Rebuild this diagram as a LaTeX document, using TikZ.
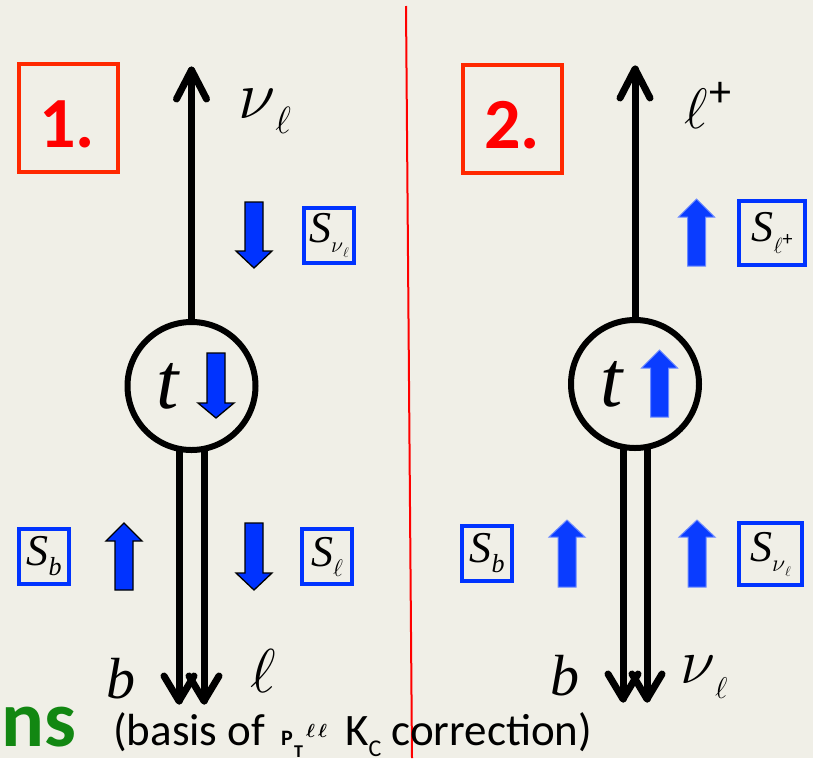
\RequirePackage{fix-cm}
\documentclass[tikz,border=0pt]{standalone}
\usepackage{fontspec}
\setmainfont{Carlito}
\newfontfamily\tms{Liberation Serif}
\usetikzlibrary{arrows.meta,backgrounds}
\definecolor{bg}{RGB}{240,239,231}
\definecolor{boxred}{RGB}{255,40,0}
\definecolor{numred}{RGB}{255,0,0}
\definecolor{spinblue}{RGB}{0,51,255}
\definecolor{spinblueB}{RGB}{10,60,255}
\definecolor{dgreen}{RGB}{18,135,18}
\newcommand\fs[1]{\fontsize{#1}{#1}\selectfont}
\newcommand\spinarrow[5][]{\draw[#1] ({#2-9},#3) -- ({#2+9},#3) -- ({#2+9},#4) -- ({#2+18},#4) -- (#2,#5) -- ({#2-18},#4) -- ({#2-9},#4) -- cycle;}
\newcommand\chevron[2]{\draw[chev] ([shift={(-15,#2)}]#1) -- (#1) -- ([shift={(15,#2)}]#1);}
\newcommand\Sit{{\tms\itshape\fs{44}S}}
\begin{document}
\begin{tikzpicture}[x=1pt,y=-1pt,
  numbox/.style={draw=boxred, line width=4pt, minimum width=99pt, minimum height=108pt, inner sep=0pt},
  numtext/.style={inner sep=0pt, text=numred, font=\fs{72}\bfseries},
  spinbox/.style={draw=spinblue, line width=4pt, inner sep=0pt, minimum width=50pt, minimum height=55pt},
  lbl/.style={inner sep=0pt, text=black},
  leg/.style={line width=7pt, line cap=round},
  chev/.style={line width=7pt, line cap=round, line join=round},
  topq/.style={draw, circle, line width=6pt, minimum size=128pt, fill=bg, inner sep=0pt},
  spinA/.style={fill=spinblue, draw=black, line width=1.3pt, line join=miter},
  spinB/.style={fill=spinblueB, draw=spinblueB!60!white, line width=1pt}
]
\useasboundingbox (0,0) rectangle (813,758);
\begin{scope}[on background layer]
\fill[bg] (0,0) rectangle (813,758);
\end{scope}
% divider
\coordinate (divtop) at (406,6);
\coordinate (divbot) at (412,758);
\draw[red, line width=2pt] (divtop) -- (divbot);

% ===== panel 1 =====
\node[numbox] (box1) at (68.5,118) {};
\node[numtext] (num1) at (67,124) {1.};
\node[topq] (t1) at (191.5,386) {};
\node[lbl, font=\tms\itshape\fs{80}] (t1t) at (168,386) {t};
\coordinate (nu1tip) at (191.5,70);
\coordinate (b1tip) at (179,701);
\coordinate (l1tip) at (204,701);
\draw[leg] (t1.north) -- (nu1tip);
\chevron{nu1tip}{29}
\begin{scope}[on background layer]
\draw[leg] (t1.center -| b1tip) -- (b1tip);
\draw[leg] (t1.center -| l1tip) -- (l1tip);
\end{scope}
\chevron{b1tip}{-25}
\chevron{l1tip}{-25}
\node[lbl, anchor=base west] (nu1) at (238,118) {{\fs{68}$\nu$}\raisebox{-15pt}{\fs{38}$\ell$}};
\node[lbl, anchor=base west] (b1) at (106,698) {\tms\itshape\fs{58}b};
\node[lbl, anchor=base west] (l1) at (250,692) {\fs{62}$\ell$};
\spinarrow[spinA]{254}{202}{251}{268}
\spinarrow[spinA]{216}{353}{403}{418}
\spinarrow[spinA]{124}{590}{541}{523}
\spinarrow[spinA]{254}{523}{573}{590}
\node[spinbox] (snu1) at (329,235.5) {\Sit\raisebox{-10pt}{\fs{22}$\nu$}\raisebox{-15pt}{\fs{14}$\ell$}};
\node[spinbox] (sb1) at (44,556.5) {\Sit\raisebox{-10pt}{\tms\itshape\fs{26}b}};
\node[spinbox] (sl1) at (327,556.5) {\Sit\raisebox{-10pt}{\fs{24}$\ell$}};

% ===== panel 2 =====
\node[numbox] (box2) at (512,119) {};
\node[numtext] (num2) at (512,125) {2.};
\node[topq] (t2) at (635,384) {};
\node[lbl, font=\tms\itshape\fs{80}] (t2t) at (612,384) {t};
\coordinate (lp2tip) at (635,69);
\coordinate (b2tip) at (623,699);
\coordinate (n2tip) at (647,699);
\draw[leg] (t2.north) -- (lp2tip);
\chevron{lp2tip}{29}
\begin{scope}[on background layer]
\draw[leg] (t2.center -| b2tip) -- (b2tip);
\draw[leg] (t2.center -| n2tip) -- (n2tip);
\end{scope}
\chevron{b2tip}{-25}
\chevron{n2tip}{-25}
\node[lbl, anchor=base west] (lp2) at (684,128) {{\fs{57}$\ell$}\hspace{2pt}\raisebox{22pt}{\fs{44}+}};
\node[lbl, anchor=base west] (b2) at (550,695) {\tms\itshape\fs{58}b};
\node[lbl, anchor=base west] (nu2) at (680,683) {{\fs{64}$\nu$}\raisebox{-15pt}{\fs{30}$\ell$}};
\spinarrow[spinB]{696.5}{266}{217}{199}
\spinarrow[spinB]{659.5}{417}{368}{350}
\spinarrow[spinB]{567}{587}{537}{520}
\spinarrow[spinB]{697}{587}{537}{520}
\node[spinbox, minimum width=66pt, minimum height=64pt] (slp2) at (772,233) {\Sit\raisebox{-12pt}{\fs{22}$\ell$}\raisebox{-4pt}{\fs{20}+}};
\node[spinbox] (sb2) at (487,553.5) {\Sit\raisebox{-10pt}{\tms\itshape\fs{26}b}};
\node[spinbox, minimum width=63pt, minimum height=62pt] (snu2) at (770.5,554) {\Sit\raisebox{-10pt}{\fs{24}$\nu$}\raisebox{-15pt}{\fs{14}$\ell$}};

% ===== bottom text =====
\node[lbl, anchor=base west, text=dgreen, font=\fs{80}\bfseries] (ns) at (1,746) {ns};
\node[lbl, anchor=base west, font=\fs{45}] (basis) at (113,745) {(basis of\hspace{16pt}\makebox[13pt][l]{\bfseries\fs{22}P}\makebox[12pt][l]{\raisebox{-12pt}{\bfseries\fs{18}T}}\makebox[28pt][l]{\raisebox{8pt}{\fs{19}\boldmath$\ell$\kern3pt$\ell$}}\hspace{11pt}K\raisebox{-11pt}{\fs{24}C}\hspace{10pt}correction)};
\end{tikzpicture}
\end{document}
